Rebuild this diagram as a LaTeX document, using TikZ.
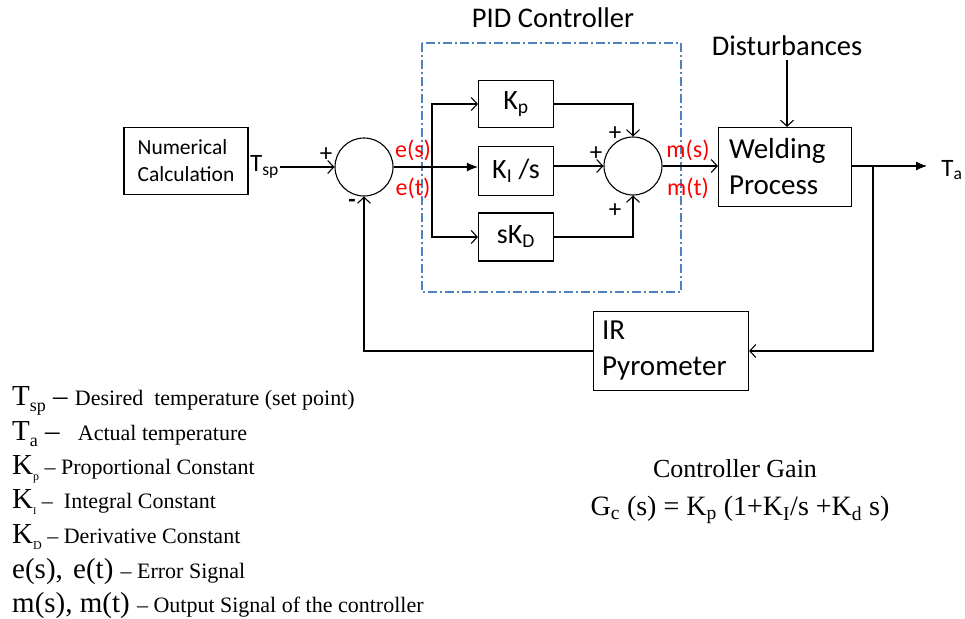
\documentclass[tikz,border=0pt]{standalone}
\usepackage{fontspec}
\setmainfont{Liberation Serif}
\newfontfamily\blockfont{Carlito}
\usepackage{tikz}
\usetikzlibrary{arrows.meta,calc,positioning}
\definecolor{pidblue}{RGB}{79,129,189}
\newcommand{\legsym}{\fontsize{29}{32}\selectfont}
\newcommand{\legtxt}{\fontsize{22}{24}\selectfont}
\newcommand{\legsub}[2]{\raisebox{-6pt}{\fontsize{#1}{#1}\selectfont #2}}

\begin{document}
\begin{tikzpicture}[x=1pt,y=-1pt,
    block/.style={draw,line width=1.1pt,minimum width=75pt,minimum height=48pt,inner sep=2pt,font=\blockfont\fontsize{28}{30}\selectfont},
    bigblock/.style={block,align=left,font=\blockfont\fontsize{29}{36}\selectfont},
    sumnode/.style={draw,circle,line width=1.1pt,minimum size=58pt,inner sep=0},
    wire/.style={line width=1.1pt},
    barb/.style={wire,-{Straight Barb[length=6pt,width=13pt,line width=1.1pt]}},
    solidtip/.style={wire,-{Latex[length=11pt,width=9pt]}},
    sigtext/.style={text=red,font=\blockfont\fontsize{24}{26}\selectfont,inner sep=0},
    signtext/.style={font=\blockfont\fontsize{25}{25}\selectfont,inner sep=0},
    legline/.style={anchor=base west,inner sep=0}]
  \useasboundingbox (0,0) rectangle (965,618);
  % PID frame
  \draw[pidblue,line width=1.2pt,dash pattern=on 9pt off 3pt on 2pt off 3pt] (422,43) rectangle (681,292);
  \node[font=\blockfont\fontsize{28.5}{30}\selectfont] (pidlabel) at (553,18) {PID Controller};
  % the blocks
  \node[block,minimum width=124pt,minimum height=67pt,align=left,font=\blockfont\fontsize{21.5}{27}\selectfont] (calc) at (186,161) {Numerical\\Calculation};
  \node[sumnode] (sum1) at (364,167) {};
  \node[block,minimum height=47pt] (kp) at (516,104) {K\textsubscript{p}};
  \node[block,minimum height=49pt] (ki) at (516,171) {K\textsubscript{I} /s};
  \node[block] (kd) at (516,237) {sK\textsubscript{D}};
  \node[sumnode] (sum2) at (633,166) {};
  \node[bigblock,minimum width=133pt,minimum height=79pt,text width=112pt] (weld) at (785,167) {Welding\\Process};
  \node[bigblock,minimum width=155pt,minimum height=79pt,text width=138pt] (ir) at (671,351) {IR\\Pyrometer};
  \node[font=\blockfont\fontsize{28.5}{30}\selectfont] (dist) at (787,46) {Disturbances};
  % signal names
  \node[anchor=east,inner sep=1pt,font=\blockfont\fontsize{25}{27}\selectfont] (tsp) at (280,167) {T\textsubscript{sp}};
  \node[font=\blockfont\fontsize{25}{27}\selectfont] (ta) at (952,170) {T\textsubscript{a}};
  \node[sigtext] (es) at (413,150) {e(s)};
  \node[sigtext] (et) at (413,188) {e(t)};
  \node[sigtext] (ms) at (688,150) {m(s)};
  \node[sigtext] (mt) at (688,188) {m(t)};
  % signs at the summers
  \node[signtext] (p1) at (326,155) {+};
  \node[signtext,font=\blockfont\bfseries\fontsize{24}{24}\selectfont] (m1) at (352,203) {-};
  \node[signtext] (p2) at (615,134) {+};
  \node[signtext] (p3) at (596,154) {+};
  \node[signtext] (p4) at (615,211) {+};
  % branch points
  \coordinate (br) at (432,167);
  \coordinate (tap) at (873,166);
  \coordinate (out) at (927,166);
  % connectors
  \draw[barb] (tsp.east) -- (sum1.west);
  \draw[solidtip] (sum1.east) -- (sum1.east -| ki.west);
  \draw[barb] (br) |- (kp.west);
  \draw[barb] (br) |- (kd.west);
  \draw[barb] (kp.east) -| (sum2.north);
  \draw[barb] (ki.east |- sum2.west) -- (sum2.west);
  \draw[barb] (kd.east) -| (sum2.south);
  \draw[barb] (sum2.east) -- (sum2.east -| weld.west);
  \draw[barb] (dist.south) -- (dist.south |- weld.north);
  \draw[solidtip] (weld.east |- out) -- (out);
  \draw[barb] (tap) |- (ir.east);
  \draw[barb] (ir.west) -| (sum1.south);
  % legend
  \node[legline] (l1) at (12,405) {\legsym T\legsub{18}{sp} -- \legtxt Desired~ temperature (set point)};
  \node[legline] (l2) at (12,440) {\legsym T\legsub{18}{a} -- \legtxt~ Actual temperature};
  \node[legline] (l3) at (12,474) {\legsym K\legsub{12}{p}\legtxt~-- Proportional Constant};
  \node[legline] (l4) at (12,508) {\legsym K\legsub{10}{I}\legtxt~-- ~Integral Constant};
  \node[legline] (l5) at (12,543) {\legsym K\legsub{12}{D}\legtxt~-- Derivative Constant};
  \node[legline] (l6) at (12,578) {\legsym e(s),\hspace{3pt} e(t) \legtxt-- Error Signal};
  \node[legline] (l7) at (12,612) {\legsym m(s), m(t) \legtxt-- Output Signal of the controller};
  % controller gain
  \node[font=\fontsize{26}{28}\selectfont] (gain) at (735,469) {Controller Gain};
  \node[font=\fontsize{28}{30}\selectfont] (gc) at (740,510) {G\textsubscript{c} (s) = K\textsubscript{p} (1+K\textsubscript{I}/s +K\textsubscript{d} s)};
\end{tikzpicture}
\end{document}
